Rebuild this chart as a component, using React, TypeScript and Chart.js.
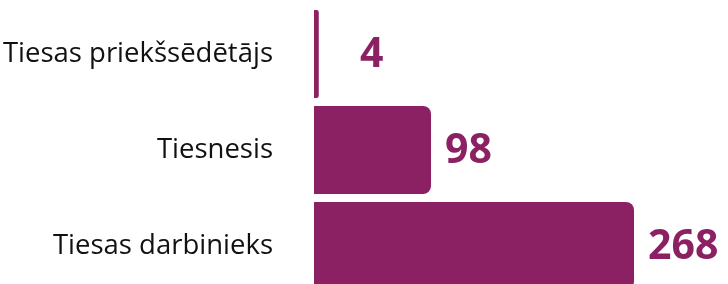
import React, { useEffect, useRef } from "react";
import { Chart, registerables } from "chart.js";

Chart.register(...registerables);

const categories = ["Tiesas priekšsēdētājs", "Tiesnesis", "Tiesas darbinieks"];
const values = [4, 98, 268];
const barColor = "#8b2063";

const valueLabels = {
  id: "valueLabels",
  afterDatasetsDraw(chart: any) {
    const ctx = chart.ctx;
    const meta = chart.getDatasetMeta(0);
    const base = chart.chartArea.left;
    ctx.save();
    ctx.font = "bold 41px 'Open Sans'";
    ctx.fillStyle = barColor;
    ctx.textAlign = "left";
    ctx.textBaseline = "middle";
    meta.data.forEach((bar: any, i: number) => {
      const x = Math.max(bar.x, base + 32) + 14;
      ctx.fillText(String(values[i]), x, bar.y + 1);
    });
    ctx.restore();
  },
};

export default function App() {
  const ref = useRef<HTMLCanvasElement>(null);
  useEffect(() => {
    const chart = new Chart(ref.current!, {
      type: "bar",
      data: {
        labels: categories,
        datasets: [
          {
            data: values,
            backgroundColor: barColor,
            borderRadius: { topRight: 8, bottomRight: 8, topLeft: 0, bottomLeft: 0 },
            borderSkipped: false,
            barPercentage: 0.917,
            categoryPercentage: 1,
          },
        ],
      },
      options: {
        indexAxis: "y",
        animation: false,
        responsive: true,
        maintainAspectRatio: false,
        layout: { padding: { top: 6, bottom: 6, right: 8, left: 0 } },
        plugins: { legend: { display: false }, tooltip: { enabled: false } },
        scales: {
          x: {
            min: 0,
            max: 340,
            display: false,
          },
          y: {
            grid: { display: false },
            border: { display: false },
            ticks: {
              padding: 33,
              color: "#111111",
              font: { family: "'Open Sans'", size: 27.5 },
            },
            afterFit(scale: any) {
              scale.width = 314;
              scale.paddingTop = 0;
              scale.paddingBottom = 0;
            },
          },
        },
      },
      plugins: [valueLabels],
    });
    return () => chart.destroy();
  }, []);
  return (
    <div style={{ position: "absolute", top: 0, left: 0, width: 728, height: 284, overflow: "hidden" }}>
      <div style={{ position: "relative", width: 728, height: 300 }}>
        <canvas ref={ref} />
      </div>
    </div>
  );
}
